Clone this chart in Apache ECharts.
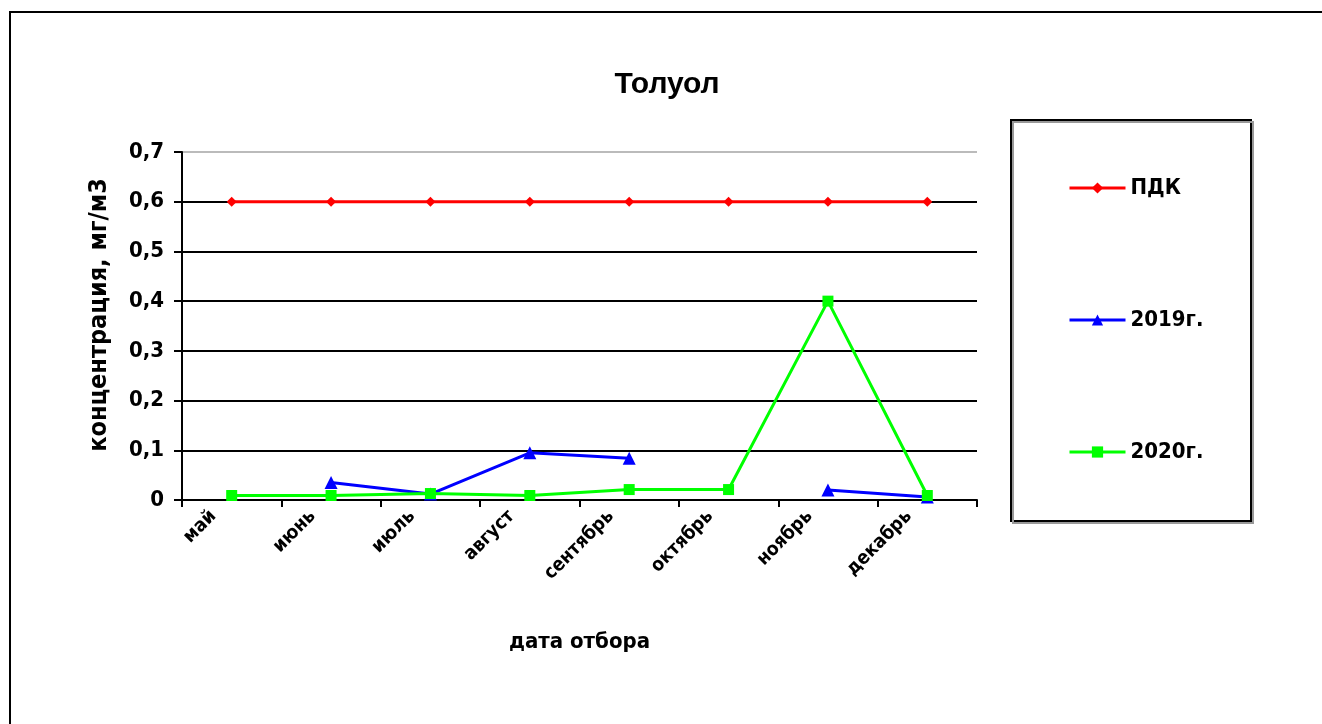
<!DOCTYPE html>
<html>
<head>
<meta charset="utf-8">
<script src="https://cdn.jsdelivr.net/npm/echarts@6/dist/echarts.min.js"></script>
<style>
html,body{margin:0;padding:0;background:#fff;}
#chart{width:1322px;height:724px;}
</style>
</head>
<body>
<div id="chart"></div>
<script>
const months = ['май', 'июнь', 'июль', 'август', 'сентябрь', 'октябрь', 'ноябрь', 'декабрь'];
const pdk = [0.6, 0.6, 0.6, 0.6, 0.6, 0.6, 0.6, 0.6];
const y2019 = [null, 0.035, 0.012, 0.095, 0.084, null, 0.02, 0.006];
const y2020 = [0.009, 0.009, 0.013, 0.009, 0.021, 0.021, 0.4, 0.009];
const yTicks = [0, 0.1, 0.2, 0.3, 0.4, 0.5, 0.6, 0.7];

const FONT = '"DejaVu Sans Condensed", "DejaVu Sans", sans-serif';
const TFONT = '"Liberation Sans", Arial, sans-serif';
const chart = echarts.init(document.getElementById('chart'));
const option = {
  animation: false,
  backgroundColor: '#fff',
  title: {
    text: 'Толуол',
    left: 662, top: 65,
    textAlign: 'center',
    textStyle: {fontFamily: TFONT, fontWeight: 'bold', fontSize: 30, color: '#000'}
  },
  grid: {left: 182, right: 345, top: 152, bottom: 224},
  legend: {
    orient: 'vertical',
    left: 1068, top: 177,
    padding: 0,
    itemWidth: 56, itemHeight: 14, itemGap: 110,
    textStyle: {fontFamily: FONT, fontWeight: 'bold', fontSize: 22, lineHeight: 22, color: '#000'},
    lineStyle: {width: 3},
    data: ['ПДК', '2019г.', '2020г.']
  },
  graphic: [
    {type: 'rect', shape: {x: 10, y: 12, width: 1330, height: 730}, style: {fill: 'none', stroke: '#000', lineWidth: 2}, silent: true, z: 100},
    {type: 'rect', shape: {x: 1013, y: 122, width: 240, height: 401}, style: {fill: 'none', stroke: '#999', lineWidth: 2}, silent: true, z: 99},
    {type: 'rect', shape: {x: 1011, y: 120, width: 240, height: 401}, style: {fill: '#fff', stroke: '#000', lineWidth: 2}, silent: true, z: -1}
  ],
  xAxis: {
    type: 'category',
    data: months,
    boundaryGap: true,
    name: 'дата отбора',
    nameLocation: 'middle',
    nameGap: 131,
    nameTextStyle: {fontFamily: FONT, fontWeight: 'bold', fontSize: 22, color: '#000'},
    axisLine: {lineStyle: {color: '#000', width: 2}},
    axisTick: {show: true, length: 7, lineStyle: {color: '#000', width: 2}},
    axisLabel: {
      rotate: 45, margin: -5, interval: 0,
      padding: [0, 26, 0, 0],
      fontFamily: FONT, fontWeight: 'bold', fontSize: 19, color: '#000'
    },
    splitLine: {show: false}
  },
  yAxis: {
    type: 'value',
    min: 0, max: 0.7, interval: 0.1,
    name: 'концентрация, мг/м3',
    nameLocation: 'middle',
    nameGap: 70,
    nameTextStyle: {fontFamily: FONT, fontWeight: 'bold', fontSize: 25, color: '#000', padding: [0, 0, 0, 22]},
    axisLine: {show: true, lineStyle: {color: '#000', width: 2}},
    axisTick: {show: true, length: 8, lineStyle: {color: '#000', width: 2}},
    axisLabel: {
      margin: 18,
      fontFamily: FONT, fontWeight: 'bold', fontSize: 22, color: '#000',
      formatter: v => {
        const t = yTicks.find(x => Math.abs(x - v) < 1e-9);
        const val = t === undefined ? v : t;
        return val === 0 ? '0' : val.toFixed(1).replace('.', ',');
      }
    },
    splitLine: {show: true, lineStyle: {color: ['#000', '#000', '#000', '#000', '#000', '#000', '#000', '#bbb'], width: 2}}
  },
  series: [
    {
      name: 'ПДК', type: 'line', data: pdk,
      color: '#ff0000',
      lineStyle: {color: '#ff0000', width: 3},
      symbol: 'diamond', symbolSize: 10,
      itemStyle: {color: '#ff0000'}, z: 3
    },
    {
      name: '2019г.', type: 'line', data: y2019,
      color: '#0000ff',
      connectNulls: false,
      lineStyle: {color: '#0000ff', width: 3},
      symbol: 'triangle', symbolSize: 13,
      itemStyle: {color: '#0000ff'}, z: 4
    },
    {
      name: '2020г.', type: 'line', data: y2020,
      color: '#00ff00',
      lineStyle: {color: '#00ff00', width: 3},
      symbol: 'rect', symbolSize: 11,
      itemStyle: {color: '#00ff00'}, z: 5
    }
  ]
};
chart.setOption(option);
</script>
</body>
</html>
